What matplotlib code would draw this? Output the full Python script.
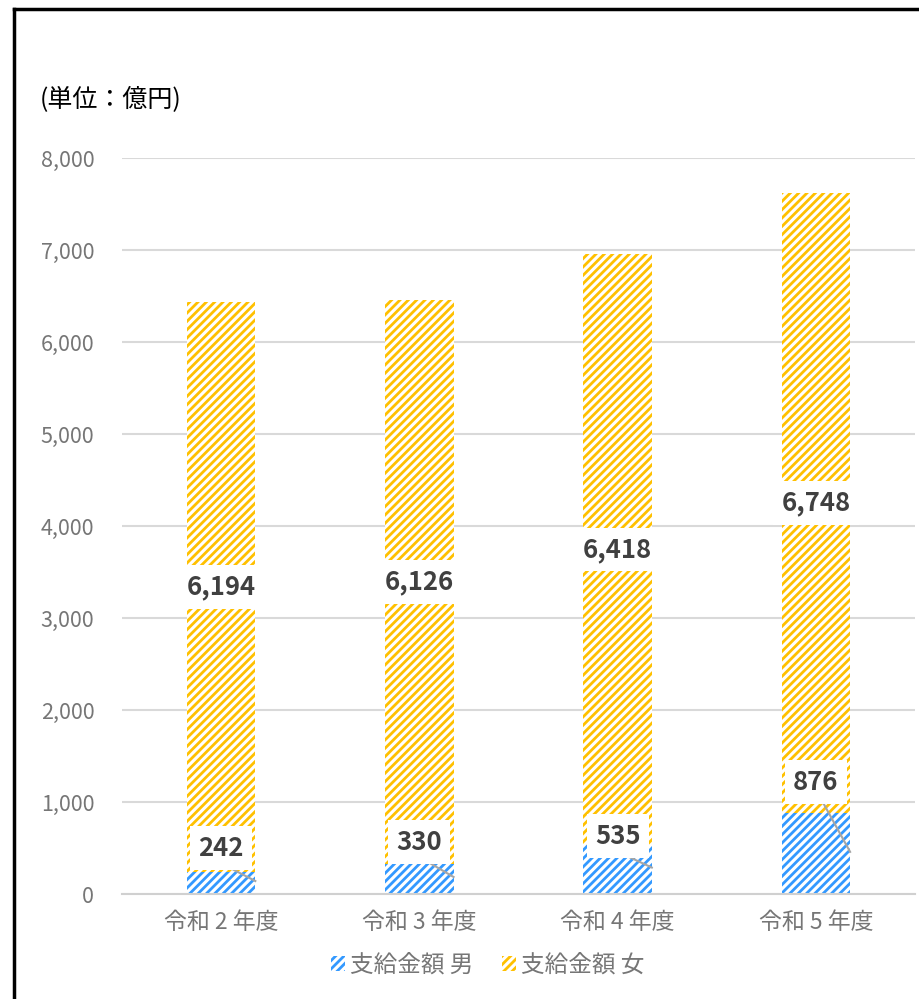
import numpy as np
import matplotlib
matplotlib.use("Agg")
import matplotlib.pyplot as plt
from matplotlib.patches import Patch
from matplotlib.lines import Line2D

plt.rcParams['font.family'] = ['Noto Sans CJK JP', 'DejaVu Sans']
plt.rcParams['hatch.linewidth'] = 2.0

# data (単位：億円)
years = ['令和 2 年度', '令和 3 年度', '令和 4 年度', '令和 5 年度']
male = [242, 330, 535, 876]
female = [6194, 6126, 6418, 6748]
# where the male labels sit (y, in 億円)
male_label_y = [500, 565, 630, 1217]

blue = '#3399FF'
gold = '#FFC000'
label_col = '#404040'
tick_col = '#767676'

fig = plt.figure(figsize=(9.2, 9.99), dpi=100)
ax = fig.add_axes([0.1326, 0.1051, 0.862, 0.7367])

x = np.arange(len(years))
w = 0.345
ax.bar(x, male, w, color='white', edgecolor=blue, hatch='////', linewidth=0, zorder=2)
ax.bar(x, female, w, bottom=male, color='white', edgecolor=gold, hatch='////', linewidth=0, zorder=2)

box = dict(boxstyle='square,pad=0.32', facecolor='white', edgecolor='none')

# female labels in the middle of the segment
for i in range(len(x)):
    ym = male[i] + female[i] / 2
    ax.text(x[i], ym, f'{female[i]:,}', ha='center', va='center', fontsize=18.5,
            fontweight='bold', color=label_col, bbox=box, zorder=5)

# male labels above the bar with leader lines
for i in range(len(x)):
    ly = male_label_y[i]
    ax.plot([x[i] + 0.03, x[i] + w / 2], [ly - 200, male[i] / 2 + 20],
            color='#A6A6A6', lw=1.5, zorder=3)
    ax.text(x[i], ly, f'{male[i]:,}', ha='center', va='center', fontsize=18.5,
            fontweight='bold', color=label_col, bbox=box, zorder=5)

ax.set_xlim(-0.5, 3.5)
ax.set_ylim(0, 8000)
ax.set_yticks(np.arange(0, 8001, 1000))
ax.set_yticklabels([f'{v:,}' for v in range(0, 8001, 1000)])
ax.set_xticks(x)
ax.set_xticklabels(years)
ax.tick_params(axis='y', length=0, labelsize=15.5, labelcolor=tick_col, pad=20)
ax.tick_params(axis='x', length=0, labelsize=16.5, labelcolor=tick_col, pad=12)
ax.yaxis.grid(True, color='#D9D9D9', lw=1.5, zorder=0)
ax.set_axisbelow(True)
for s in ['top', 'right', 'left']:
    ax.spines[s].set_visible(False)
ax.spines['bottom'].set_color('#D0D0D0')
ax.spines['bottom'].set_linewidth(1.5)

fig.text(40 / 920, 1 - 100 / 999, '(単位：億円)', fontsize=18, color='black',
         ha='left', va='center')

handles = [Patch(facecolor='white', edgecolor=blue, hatch='////', linewidth=0),
           Patch(facecolor='white', edgecolor=gold, hatch='////', linewidth=0)]
fig.legend(handles, ['支給金額 男', '支給金額 女'], loc='center',
           bbox_to_anchor=(0.53, 0.034), ncol=2, frameon=False, fontsize=17,
           labelcolor=tick_col, handlelength=0.6, handleheight=0.6,
           handletextpad=0.2, columnspacing=1.2)

# frame around the chart (only top and left edges show)
fig.add_artist(Line2D([14 / 920, 1], [1 - 9 / 999, 1 - 9 / 999],
                      transform=fig.transFigure, color='black', lw=2.5))
fig.add_artist(Line2D([14.5 / 920, 14.5 / 920], [0, 1 - 9 / 999],
                      transform=fig.transFigure, color='black', lw=2.5))

fig.savefig('out.png', dpi=100, facecolor='white')
